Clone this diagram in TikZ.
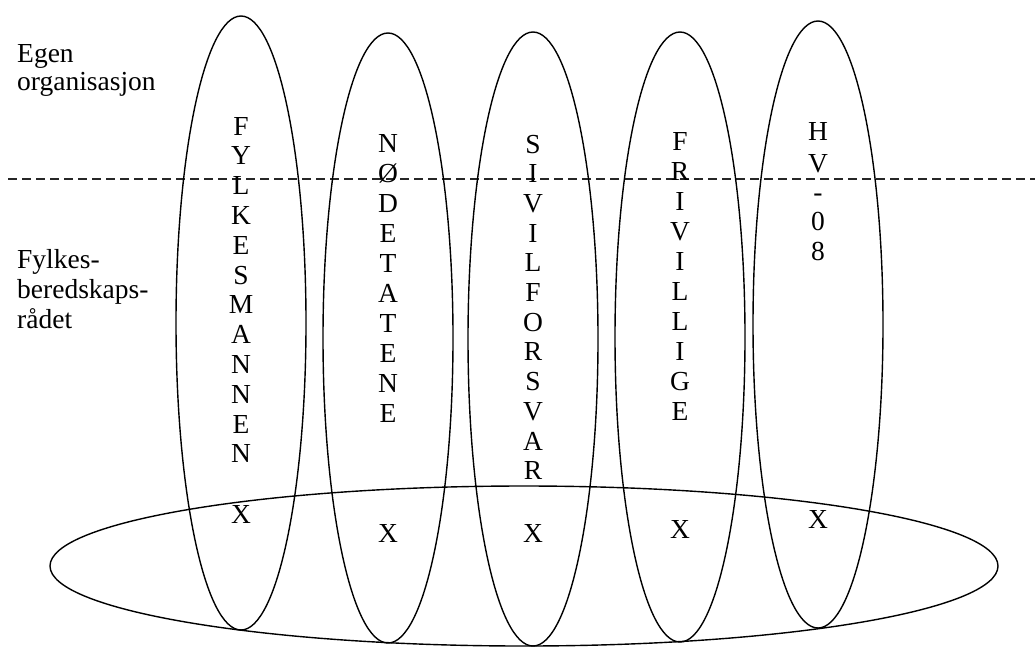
\documentclass[tikz,border=0pt]{standalone}
\usepackage{fontspec}
\setmainfont{Liberation Serif}
\begin{document}
\begin{tikzpicture}[x=1pt,y=-1pt,
  ring/.style={line width=1.4pt},
  letter/.style={inner sep=0pt,anchor=base,font=\fontsize{27.5}{30}\selectfont},
  side/.style={inner sep=0pt,anchor=base west,font=\fontsize{27.5}{30}\selectfont},
  sep/.style={line width=1.3pt,dash pattern=on 9pt off 5pt,draw=black!85}]
\useasboundingbox (0,0) rectangle (1035,646);
% dashed separator
\coordinate (d1) at (8,179);
\coordinate (d2) at (1035,179);
\draw[sep] (d1) -- (d2);
% vertical ellipses
\draw[ring] (241,323) ellipse [x radius=65, y radius=307];
\draw[ring] (388,338) ellipse [x radius=65, y radius=305];
\draw[ring] (533,339) ellipse [x radius=65, y radius=307];
\draw[ring] (680,337) ellipse [x radius=65, y radius=305];
\draw[ring] (818,324.5) ellipse [x radius=65, y radius=303.5];
% horizontal ellipse
\draw[ring] (524,566) ellipse [x radius=474, y radius=80];
% side labels
\node[side] (t1) at (17,62) {Egen};
\node[side] (t2) at (17,90) {organisasjon};
\node[side] (t3) at (17,268) {Fylkes-};
\node[side] (t4) at (17,298) {beredskaps-};
\node[side] (t5) at (17,328) {rådet};
% vertical words
\foreach \ch [count=\i] in {F,Y,L,K,E,S,M,A,N,N,E,N}
  \node[letter] (a\i) at (241,{135+(\i-1)*29.8}) {\ch};
\foreach \ch [count=\i] in {N,Ø,D,E,T,A,T,E,N,E}
  \node[letter] (b\i) at (388,{152+(\i-1)*30}) {\ch};
\foreach \ch [count=\i] in {S,I,V,I,L,F,O,R,S,V,A,R}
  \node[letter] (c\i) at (533,{153+(\i-1)*29.7}) {\ch};
\foreach \ch [count=\i] in {F,R,I,V,I,L,L,I,G,E}
  \node[letter] (e\i) at (680,{150+(\i-1)*30}) {\ch};
\node[letter] (h1) at (818,140) {H};
\node[letter] (h2) at (818,172) {V};
\node[letter] (h3) at (818,201) {-};
\node[letter] (h4) at (818,230) {0};
\node[letter] (h5) at (818,260) {8};
% crosses
\node[letter] (x1) at (241,523) {X};
\node[letter] (x2) at (388,542) {X};
\node[letter] (x3) at (533,542) {X};
\node[letter] (x4) at (680,538) {X};
\node[letter] (x5) at (818,528) {X};
\end{tikzpicture}
\end{document}
